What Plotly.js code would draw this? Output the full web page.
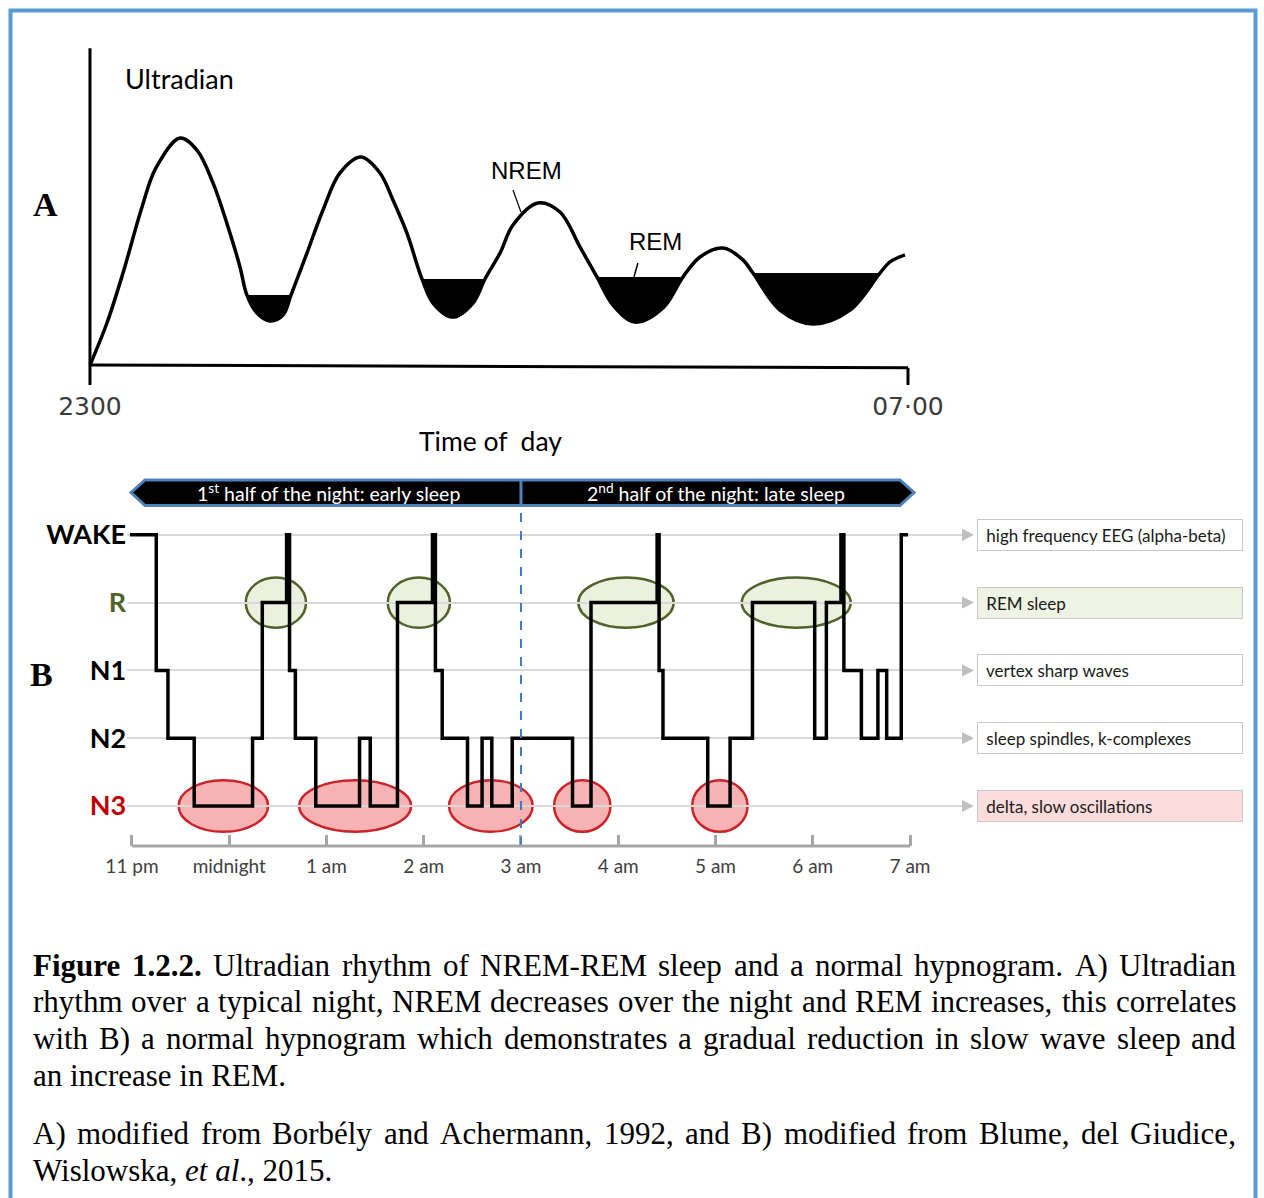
<!DOCTYPE html>
<html>
<head>
<meta charset="utf-8">
<script src="https://cdn.plot.ly/plotly-3.0.1.min.js"></script>
<style>
  html, body { margin: 0; padding: 0; background: #fff; }
  #fig { width: 1264px; height: 1198px; }
</style>
</head>
<body>
<div id="fig"></div>
<script>
// ---------- Panel A: ultradian NREM/REM cycle (hours after 23:00, relative level) ----------
const cycleHours = [0, 0.166, 0.323, 0.509, 0.645, 0.880, 1.046, 1.203, 1.369, 1.467,
  1.535, 1.633, 1.760, 1.888, 1.966, 2.122, 2.279, 2.445, 2.650, 2.836,
  2.963, 3.100, 3.247, 3.355, 3.550, 3.746, 3.863, 4.010, 4.137, 4.381,
  4.597, 4.792, 4.958, 5.115, 5.330, 5.604, 5.800, 5.966, 6.191, 6.386,
  6.484, 6.748, 7.071, 7.433, 7.726, 7.824, 7.971];
const cycleLevel = [0, 18.5, 40.5, 69.6, 86.8, 100.0, 94.7, 80.2, 58.1, 43.2,
  30.8, 22.9, 19.4, 22.0, 30.8, 49.3, 68.3, 84.6, 91.6, 84.6,
  72.7, 58.1, 37.9, 27.3, 21.1, 27.3, 37.9, 49.3, 61.7, 71.4,
  67.4, 52.0, 38.8, 26.4, 18.9, 25.1, 38.8, 47.6, 51.5, 46.3,
  40.5, 24.2, 18.1, 24.2, 40.5, 45.4, 48.5];
// REM troughs: first and last index into the cycle arrays
const remSpans = [[10, 14], [22, 26], [32, 36], [40, 44]];
const panelATicks = [0, 8];
const panelATickText = ['2300', '07\u00b700'];

// ---------- Panel B: hypnogram (hours after 11 pm) ----------
const stageNames = ['N3', 'N2', 'N1', 'R', 'WAKE'];
const hypnoHours = [-0.02, 0.25, 0.37, 0.64, 1.24, 1.34, 1.59, 1.62, 1.68, 1.89,
  2.34, 2.45, 2.73, 3.09, 3.12, 3.19, 3.45, 3.60, 3.70, 3.91,
  4.53, 4.72, 5.40, 5.42, 5.46, 5.92, 6.15, 6.38, 7.02, 7.14,
  7.29, 7.32, 7.50, 7.67, 7.76, 7.91, 7.98];
const hypnoStage = ['WAKE', 'N1', 'N2', 'N3', 'N2', 'R', 'WAKE', 'N1', 'N2', 'N3',
  'N2', 'N3', 'R', 'WAKE', 'N1', 'N2', 'N3', 'N2', 'N3', 'N2',
  'N3', 'R', 'WAKE', 'N1', 'N2', 'N3', 'N2', 'R', 'N2', 'R',
  'WAKE', 'N1', 'N2', 'N1', 'N2', 'WAKE', 'WAKE'];
const clockHours = [0, 1, 2, 3, 4, 5, 6, 7, 8];
const clockLabels = ['11 pm', 'midnight', '1 am', '2 am', '3 am', '4 am', '5 am', '6 am', '7 am'];
// highlighted REM and slow-wave episodes [start, end] in hours
const remEpisodes = [[1.17, 1.79], [2.63, 3.27], [4.59, 5.57], [6.27, 7.39]];
const swsEpisodes = [[0.48, 1.40], [1.72, 2.87], [3.26, 4.12], [4.34, 4.92], [5.76, 6.33]];
const halfNight = 4;
const stageNotes = {
  'WAKE': 'high frequency EEG (alpha-beta)',
  'R': 'REM sleep',
  'N1': 'vertex sharp waves',
  'N2': 'sleep spindles, k-complexes',
  'N3': 'delta, slow oscillations'
};

// ---------- Caption ----------
const captionLines = [
  '<b>Figure</b> <b>1.2.2.</b> Ultradian rhythm of NREM-REM sleep and a normal hypnogram. A) Ultradian',
  'rhythm over a typical night, NREM decreases over the night and REM increases, this correlates',
  'with B) a normal hypnogram which demonstrates a gradual reduction in slow wave sleep and',
  'an increase in REM.',
  'A) modified from Borbély and Achermann, 1992, and B) modified from Blume, del Giudice,',
  'Wislowska, <i>et al</i>., 2015.'
];
const captionJustified = [true, true, true, false, true, false];

// ---------- page geometry helpers ----------
const W = 1264, H = 1198;
const PX = x => x / W;
const PY = y => 1 - y / H;
const SANS = 'Lato, "Open Sans", sans-serif';
const SERIF = '"Liberation Serif", "Times New Roman", serif';

const traces = [];

// REM fills: area between the REM threshold and the cycle curve
remSpans.forEach(([a, b]) => {
  const xs = cycleHours.slice(a, b + 1);
  const ys = cycleLevel.slice(a, b + 1);
  const lvl = ys[0];
  traces.push({
    x: [xs[0], xs[xs.length - 1]], y: [lvl, lvl],
    mode: 'lines', line: {width: 0, color: '#000'},
    xaxis: 'x', yaxis: 'y', hoverinfo: 'skip', showlegend: false
  });
  traces.push({
    x: xs, y: ys, mode: 'lines',
    line: {width: 0, color: '#000', shape: 'spline', smoothing: 1},
    fill: 'tonexty', fillcolor: '#000',
    xaxis: 'x', yaxis: 'y', hoverinfo: 'skip', showlegend: false
  });
});

// ultradian curve
traces.push({
  x: cycleHours, y: cycleLevel, mode: 'lines',
  line: {color: '#000', width: 3.5, shape: 'spline', smoothing: 1},
  xaxis: 'x', yaxis: 'y', hoverinfo: 'skip', showlegend: false
});

// hypnogram
traces.push({
  x: hypnoHours, y: hypnoStage, mode: 'lines',
  line: {color: '#000', width: 3.5, shape: 'hv'},
  xaxis: 'x2', yaxis: 'y2', hoverinfo: 'skip', showlegend: false
});

const shapes = [];

// outer frame
shapes.push({type: 'rect', xref: 'paper', yref: 'paper',
  x0: PX(10.5), x1: PX(1255.5), y0: PY(1210), y1: PY(10.5),
  line: {color: '#5b9bd5', width: 4}, fillcolor: 'rgba(0,0,0,0)'});

// panel A axes
shapes.push({type: 'line', xref: 'x', yref: 'y', x0: 0, x1: 0, y0: -8.8, y1: 139.5,
  line: {color: '#000', width: 3}});
shapes.push({type: 'line', xref: 'x', yref: 'y', x0: 0, x1: 8, y0: 0, y1: -1.2,
  line: {color: '#000', width: 3}});
shapes.push({type: 'line', xref: 'x', yref: 'y', x0: 8, x1: 8, y0: -1.2, y1: -8.8,
  line: {color: '#000', width: 3}});

// leader lines for NREM / REM labels
shapes.push({type: 'line', xref: 'x', yref: 'y', x0: 4.137, y0: 77.1, x1: 4.215, y1: 67.4,
  line: {color: '#000', width: 1.2}});
shapes.push({type: 'line', xref: 'x', yref: 'y', x0: 5.359, y0: 44.9, x1: 5.320, y1: 38.8,
  line: {color: '#000', width: 1.5}});

// REM / slow-wave ellipses
remEpisodes.forEach(([s, e]) => {
  shapes.push({type: 'circle', xref: 'x2', yref: 'y2', layer: 'below',
    x0: s, x1: e, y0: 3 - 0.37, y1: 3 + 0.37,
    fillcolor: '#ebf1de', line: {color: '#4f6228', width: 2.5}});
});
swsEpisodes.forEach(([s, e]) => {
  shapes.push({type: 'circle', xref: 'x2', yref: 'y2', layer: 'below',
    x0: s, x1: e, y0: -0.38, y1: 0.38,
    fillcolor: '#f7b3b3', line: {color: '#cc2229', width: 2.5}});
});

// mid-night divider
shapes.push({type: 'line', xref: 'x2', yref: 'y2', x0: halfNight, x1: halfNight,
  y0: -0.59, y1: 4.44, line: {color: '#3d7cc9', width: 2, dash: 'dash'}});

// hypnogram time axis line
shapes.push({type: 'line', xref: 'x2', yref: 'paper', x0: 0, x1: 8, y0: PY(846), y1: PY(846),
  line: {color: '#a6a6a6', width: 3}});

// header arrow bar
const bar = [[131, 492.5], [145, 480], [900, 480], [914, 492.5], [900, 505.5], [145, 505.5]];
shapes.push({type: 'path', xref: 'paper', yref: 'paper',
  path: 'M' + bar.map(p => PX(p[0]) + ',' + PY(p[1])).join(' L') + ' Z',
  fillcolor: '#000', line: {color: '#4f81bd', width: 3}});
shapes.push({type: 'line', xref: 'x2', yref: 'paper', x0: halfNight, x1: halfNight,
  y0: PY(480), y1: PY(505), line: {color: '#4f81bd', width: 3}});

// pointer arrowheads toward stage notes
stageNames.forEach((s, i) => {
  shapes.push({type: 'path', xref: 'paper', yref: 'y2',
    path: `M${PX(962)},${i + 0.09} L${PX(974)},${i} L${PX(962)},${i - 0.09} Z`,
    fillcolor: '#bfbfbf', line: {width: 0}});
});

const annotations = [];
const txt = (o) => Object.assign({showarrow: false, xref: 'paper', yref: 'paper',
  xanchor: 'center', yanchor: 'middle'}, o);

annotations.push(txt({x: PX(45), y: PY(205), text: '<b>A</b>',
  font: {family: SERIF, size: 34, color: '#000'}}));
annotations.push(txt({x: PX(42), y: PY(674), text: '<b>B</b>',
  font: {family: SERIF, size: 34, color: '#000'}}));
annotations.push(txt({x: PX(179), y: PY(79), text: 'Ultradian',
  font: {family: SANS, size: 27, color: '#000'}}));
annotations.push(txt({x: PX(490), y: PY(441), text: 'Time of&nbsp; day',
  font: {family: SANS, size: 26.5, color: '#000'}}));
annotations.push(txt({x: PX(526), y: PY(171), text: 'NREM',
  font: {family: '"Liberation Sans", Arial, sans-serif', size: 24, color: '#000'}}));
annotations.push(txt({x: PX(655), y: PY(242), text: 'REM',
  font: {family: '"Liberation Sans", Arial, sans-serif', size: 24, color: '#000'}}));

annotations.push(txt({x: PX(328), y: PY(492.5), text: '1<sup>st</sup> half of the night: early sleep',
  font: {family: SANS, size: 19.5, color: '#fff'}}));
annotations.push(txt({x: PX(716), y: PY(492.5), text: '2<sup>nd</sup> half of the night: late sleep',
  font: {family: SANS, size: 19.5, color: '#fff'}}));

// stage note boxes
const noteFill = {'WAKE': '#ffffff', 'R': '#eef3e3', 'N1': '#ffffff', 'N2': '#ffffff', 'N3': '#fcdcdc'};
stageNames.forEach((s) => {
  annotations.push({showarrow: false, xref: 'paper', yref: 'y2',
    x: PX(977), y: s, xanchor: 'left', yanchor: 'middle',
    text: '\u00a0' + stageNotes[s], align: 'left', width: 256, height: 22,
    borderpad: 4, borderwidth: 1, bordercolor: '#c8c8c8', bgcolor: noteFill[s],
    font: {family: SANS, size: 17, color: '#1a1a1a'}});
});

// caption, justified between the page margins
const capLeft = 33, capRight = 1236, capSize = 31;
const capY = [965, 1001, 1038, 1075, 1133, 1170];
const ctx = document.createElement('canvas').getContext('2d');
function wordWidth(w) {
  const bold = /<b>/.test(w), italic = /<i>/.test(w);
  ctx.font = `${italic ? 'italic ' : ''}${bold ? 'bold ' : ''}${capSize}px "Liberation Serif"`;
  return ctx.measureText(w.replace(/<[^>]+>/g, '')).width;
}
captionLines.forEach((line, li) => {
  const font = {family: SERIF, size: capSize, color: '#000'};
  if (!captionJustified[li]) {
    annotations.push(txt({x: PX(capLeft), y: PY(capY[li]), xanchor: 'left',
      text: line, font, borderpad: 0, borderwidth: 0}));
    return;
  }
  const words = line.split(' ');
  const widths = words.map(wordWidth);
  const total = widths.reduce((a, b) => a + b, 0);
  const gap = (capRight - capLeft - total) / (words.length - 1);
  let x = capLeft;
  words.forEach((w, i) => {
    annotations.push(txt({x: PX(x), y: PY(capY[li]), xanchor: 'left',
      text: w, font, borderpad: 0, borderwidth: 0}));
    x += widths[i] + gap;
  });
});

const stageTickText = [
  '<span style="color:#c00000">N3</span>', 'N2', 'N1',
  '<span style="color:#4f6228">R</span>', 'WAKE'
];

const layout = {
  width: W, height: H,
  margin: {l: 0, r: 0, t: 0, b: 0},
  paper_bgcolor: '#ffffff', plot_bgcolor: 'rgba(0,0,0,0)',
  showlegend: false,
  xaxis: {
    domain: [PX(59.3), PX(959.1)], range: [-0.3, 8.5], anchor: 'y',
    showgrid: false, zeroline: false, showline: false, ticks: '',
    tickvals: panelATicks, ticktext: panelATickText,
    tickfont: {family: '"DejaVu Sans", sans-serif', size: 25, color: '#3a3a3a'},
    ticklabelstandoff: 1,
    fixedrange: true
  },
  yaxis: {
    domain: [PY(387.7), PY(47.2)], range: [-10, 140], anchor: 'x',
    visible: false, fixedrange: true
  },
  xaxis2: {
    domain: [PX(127.1), PX(963.5)], range: [-0.05, 8.55], anchor: 'y2',
    showgrid: false, zeroline: false, showline: false,
    ticks: 'inside', ticklen: 11, tickwidth: 3, tickcolor: '#a6a6a6',
    tickvals: clockHours, ticktext: clockLabels,
    tickfont: {family: SANS, size: 19, color: '#404040'},
    ticklabelstandoff: 7,
    fixedrange: true
  },
  yaxis2: {
    domain: [PY(846), PY(505)], range: [-0.59, 4.44], anchor: 'x2',
    type: 'category', categoryorder: 'array', categoryarray: stageNames,
    tickvals: stageNames, ticktext: stageTickText,
    showgrid: true, gridcolor: '#d9d9d9', gridwidth: 2,
    zeroline: false, showline: false, ticks: '',
    tickfont: {family: SANS, size: 27, weight: 700, color: '#000'},
    fixedrange: true
  },
  shapes: shapes,
  annotations: annotations
};

Plotly.newPlot('fig', traces, layout, {displayModeBar: false, staticPlot: true});
</script>
</body>
</html>
